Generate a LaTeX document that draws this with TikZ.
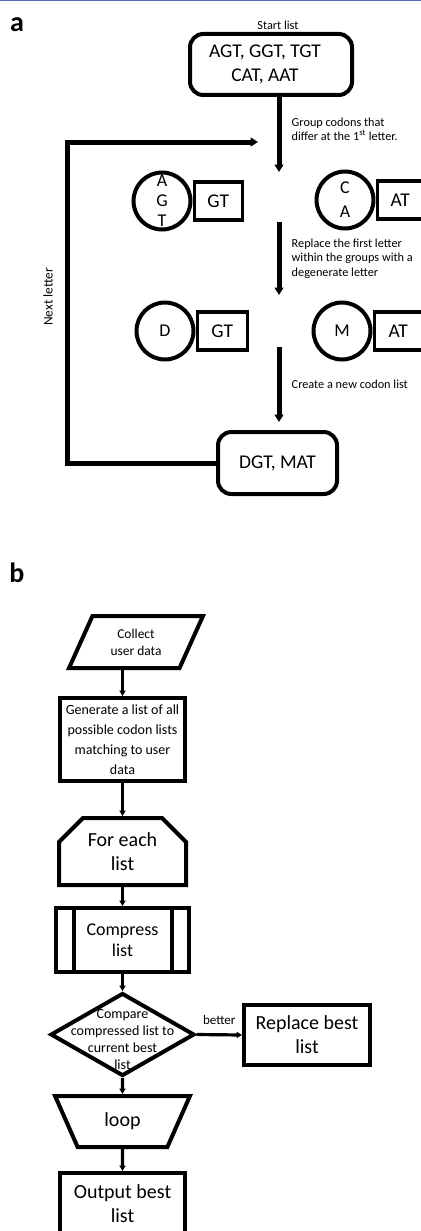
\documentclass[tikz,border=0pt]{standalone}
\usepackage{fontspec}
\setmainfont{Carlito}
\usepackage{tikz}
\usetikzlibrary{positioning,arrows.meta,shapes.geometric,shapes.misc}
\definecolor{ink}{HTML}{000000}
\definecolor{rulebar}{HTML}{4a6cb0}

\begin{document}
\begin{tikzpicture}[x=0.75pt,y=-0.75pt,
  arra/.style={-{Triangle[length=5.5pt,width=6.5pt]},line width=3.75pt,draw=ink},
  arrb/.style={-{Triangle[length=4pt,width=4.5pt]},line width=2.4pt,draw=ink},
  lst/.style={draw=ink,rounded corners=10pt,line width=3pt,inner sep=0pt,align=center},
  grp/.style={circle,draw=ink,line width=3pt,minimum size=42.75pt,inner sep=0pt,font=\fontsize{13.5}{15}\selectfont},
  tail/.style={rectangle,draw=ink,line width=2.6pt,inner sep=0pt,anchor=west,minimum width=36pt,minimum height=28.5pt,font=\fontsize{14.6}{16}\selectfont},
  lab/.style={font=\fontsize{9.2}{10.9}\selectfont,align=left,anchor=west},
  big/.style={font=\fontsize{14.6}{18}\selectfont,align=center},
  proc/.style={rectangle,draw=ink,line width=3pt,inner sep=0pt,align=center},
  io/.style={trapezium,trapezium left angle=62.6,trapezium right angle=117.4,trapezium stretches=true,
    draw=ink,line width=3pt,inner sep=0pt,align=center,minimum width=100.5pt,minimum height=39pt,
    font=\fontsize{10.1}{12.75}\selectfont},
  lim/.style={chamfered rectangle,chamfered rectangle corners={north west,north east},chamfered rectangle sep=9pt,
    draw=ink,line width=3pt,inner sep=0pt,align=center,minimum width=95.25pt,minimum height=50.25pt,
    font=\fontsize{15}{18}\selectfont},
  sub/.style={proc,minimum width=99.75pt,minimum height=48pt,font=\fontsize{13.5}{15.75}\selectfont,
    path picture={\draw[line width=3pt]
      ([xshift=13.5pt]path picture bounding box.north west) -- ([xshift=13.5pt]path picture bounding box.south west)
      ([xshift=-12.75pt]path picture bounding box.north east) -- ([xshift=-12.75pt]path picture bounding box.south east);}},
  dec/.style={diamond,draw=ink,line width=3pt,inner sep=0pt,minimum width=108pt,minimum height=62.25pt},
  lp/.style={trapezium,trapezium left angle=118,trapezium right angle=118,trapezium stretches=true,
    draw=ink,line width=3pt,inner sep=0pt,minimum width=101.25pt,minimum height=38.25pt,
    font=\fontsize{15}{18}\selectfont},
  panel/.style={font=\fontsize{21}{21}\selectfont\bfseries}]
  \path[use as bounding box,clip] (0,0) rectangle (421,1231);
  \draw[rulebar,line width=1pt] (0,0.5) -- (421,0.5);

  % panel a: start list
  \node[panel] (pa) at (17,25) {a};
  \node[font=\fontsize{9.2}{11}\selectfont] (startlab) at (278,25) {Start list};
  \node[lst,minimum width=121.5pt,minimum height=45.75pt] (start) at (271,64.5) {};
  \node[big] (starttxt) at (265,64) {AGT, GGT, TGT\\CAT, AAT};
  % grouping
  \coordinate (g1) at (279,172);
  \draw[arra] (start.south -| g1) -- (g1);
  \node[lab] (glab) at (287,129.5) {Group codons that\\differ at the 1\textsuperscript{st} letter.};
  \node[grp] (c1) at (162,201) {};
  \node[align=center,font=\fontsize{13.5}{15}\selectfont] (c1txt) at (c1) {A\\G\\T};
  \node[tail] (t1) at (c1.east) {GT};
  \node[grp] (c2) at (345,200) {};
  \node[align=center,font=\fontsize{13.5}{18}\selectfont] (c2txt) at (c2) {C\\A};
  \node[tail,minimum width=34.5pt] (t2) at (c2.east) {AT};
  % degenerate letter
  \coordinate (g2a) at (279,222);
  \coordinate (g2b) at (279,295);
  \draw[arra] (g2a) -- (g2b);
  \node[lab] (rlab) at (287,258.5) {Replace the first letter\\within the groups with a\\degenerate letter};
  \node[grp] (d1) at (165,331) {D};
  \node[tail,minimum width=37.5pt] (t3) at (d1.east) {GT};
  \node[grp] (d2) at (342,331) {M};
  \node[tail] (t4) at (d2.east) {AT};
  % new list
  \coordinate (g3a) at (279,347);
  \coordinate (g3b) at (279,422);
  \draw[arra] (g3a) -- (g3b);
  \node[lab] (clab) at (287,384) {Create a new codon list};
  \node[lst,big,minimum width=89.25pt,minimum height=46.5pt] (dgt) at (277.5,463) {DGT, MAT};
  % back to grouping
  \coordinate (lp) at (67,142);
  \coordinate (lpend) at (258,142);
  \draw[arra] (dgt.west) -| (lp) -- (lpend);
  \node[rotate=90,font=\fontsize{10}{12}\selectfont] (nlab) at (48,297) {Next letter};

  % panel b: flow chart
  \node[panel] (pb) at (17,572.5) {b};
  \node[io] (coll) at (136,642) {Collect\\user data};
  \node[proc,minimum width=93.75pt,minimum height=62.25pt,font=\fontsize{10.5}{15}\selectfont] (gen) at (122.5,739.5)
    {Generate a list of all\\possible codon lists\\matching to user\\data};
  \node[lim] (fe) at (122.5,851.5) {For each\\list};
  \node[sub] (comp) at (122.5,940) {Compress\\list};
  \node[dec] (cmp) at (122.5,1034.5) {};
  \node[align=center,font=\fontsize{10.5}{12.75}\selectfont] (cmptxt) at (122.5,1039) {Compare\\compressed list to\\current best\\list};
  \node[proc,minimum width=94.5pt,minimum height=45pt,font=\fontsize{15}{18}\selectfont] (rep) at (307,1035) {Replace best\\list};
  \node[lp] (lend) at (122.5,1121.5) {loop};
  \node[proc,minimum width=93.75pt,minimum height=46.5pt,font=\fontsize{15}{18}\selectfont] (outp) at (122.5,1204) {Output best\\list};
  \draw[arrb] (coll.south -| gen.north) -- (gen.north);
  \draw[arrb] (gen.south) -- (fe.north);
  \draw[arrb] (fe.south) -- (comp.north);
  \draw[arrb] (comp.south) -- (cmp.north);
  \draw[arrb] (cmp.east) -- node[above=3pt,font=\fontsize{9.8}{11}\selectfont] (blab) {better} (rep.west);
  \draw[arrb] (cmp.south) -- (lend.north);
  \draw[arrb] (lend.south) -- (outp.north);
\end{tikzpicture}
\end{document}
